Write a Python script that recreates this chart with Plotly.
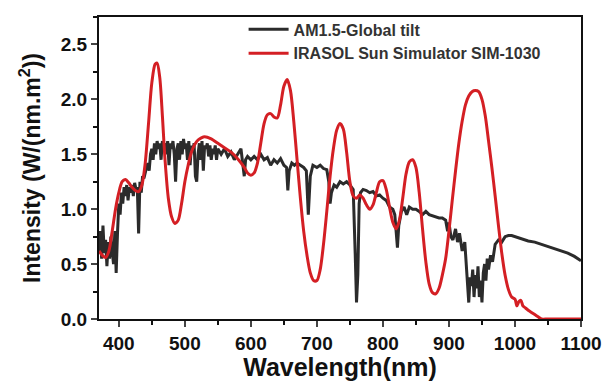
import plotly.graph_objects as go

# AM1.5-Global tilt spectrum
am_wl = [370, 372, 374, 376, 378, 380, 382, 384, 386, 388, 390, 392, 394, 396, 398,
         400, 402, 404, 406, 408, 410, 412, 414, 416, 418, 420, 422, 424, 426, 428,
         430, 432, 434, 436, 438, 440, 442, 444, 446, 448, 450, 452, 454, 456, 458,
         460, 462, 464, 466, 468, 470, 472, 474, 476, 478, 480, 482, 484, 486, 488,
         490, 492, 494, 496, 498, 500, 502, 504, 506, 508, 510, 512, 514, 516, 518,
         520, 522, 524, 526, 528, 530, 532, 534, 536, 538, 540, 542, 544, 546, 548,
         550, 555, 560, 565, 570, 575, 580, 585, 588, 590, 592, 595, 600, 605, 610,
         615, 620, 625, 630, 635, 640, 645, 650, 654, 656, 658, 662, 666, 670, 675,
         680, 684, 687, 690, 694, 700, 705, 710, 715, 718, 720, 722, 726, 730, 735,
         740, 745, 750, 755, 758, 760, 762, 764, 766, 770, 775, 780, 785, 790, 795,
         800, 805, 810, 815, 818, 820, 822, 824, 828, 832, 836, 840, 845, 850, 855,
         860, 865, 870, 875, 880, 885, 890, 895, 898, 900, 903, 906, 910, 913, 916,
         920, 924, 927, 930, 932, 934, 936, 938, 940, 942, 944, 946, 948, 950, 952,
         954, 956, 958, 960, 963, 966, 970, 975, 980, 985, 990, 995, 1000, 1010, 1020,
         1030, 1040, 1050, 1060, 1070, 1080, 1090, 1100]
am_val = [0.62, 0.80, 0.55, 0.85, 0.60, 0.72, 0.48, 0.70, 0.55, 0.75, 0.62, 0.50, 0.80, 0.42, 0.78,
          1.05, 0.95, 1.15, 1.05, 1.20, 1.12, 1.22, 1.08, 1.20, 1.15, 1.22, 1.12, 1.24, 1.18, 1.20,
          0.78, 1.25, 1.15, 1.30, 1.28, 1.35, 1.38, 1.42, 1.35, 1.50, 1.55, 1.45, 1.60, 1.50, 1.62,
          1.55, 1.60, 1.45, 1.62, 1.55, 1.60, 1.50, 1.62, 1.40, 1.60, 1.55, 1.62, 1.50, 1.25, 1.55,
          1.60, 1.45, 1.62, 1.50, 1.64, 1.55, 1.60, 1.45, 1.62, 1.40, 1.58, 1.52, 1.60, 1.30, 1.25,
          1.50, 1.60, 1.45, 1.62, 1.35, 1.58, 1.55, 1.60, 1.48, 1.58, 1.45, 1.55, 1.50, 1.58, 1.45,
          1.55, 1.50, 1.55, 1.48, 1.52, 1.45, 1.50, 1.55, 1.40, 1.30, 1.45, 1.48, 1.45, 1.48, 1.45,
          1.50, 1.45, 1.47, 1.40, 1.45, 1.42, 1.46, 1.40, 1.38, 1.17, 1.35, 1.42, 1.40, 1.42, 1.40,
          1.38, 1.35, 0.95, 1.30, 1.40, 1.38, 1.40, 1.37, 1.36, 1.25, 1.05, 1.15, 1.22, 1.20, 1.25,
          1.23, 1.25, 1.22, 1.18, 0.60, 0.15, 0.40, 1.05, 1.15, 1.18, 1.17, 1.15, 1.16, 1.12, 1.13,
          1.10, 1.08, 1.02, 1.00, 0.95, 0.80, 0.65, 0.85, 0.98, 1.02, 0.95, 1.02, 1.00, 1.00, 0.98,
          0.95, 0.98, 0.95, 0.94, 0.93, 0.92, 0.92, 0.90, 0.80, 0.88, 0.75, 0.72, 0.82, 0.70, 0.78,
          0.62, 0.70, 0.45, 0.15, 0.38, 0.30, 0.45, 0.20, 0.40, 0.28, 0.48, 0.20, 0.35, 0.15, 0.42,
          0.50, 0.35, 0.55, 0.45, 0.58, 0.52, 0.68, 0.72, 0.70, 0.75, 0.76, 0.76, 0.75, 0.73, 0.71,
          0.70, 0.68, 0.66, 0.64, 0.62, 0.60, 0.57, 0.53]

# IRASOL Sun Simulator SIM-1030 spectrum
sim_wl = [370, 375, 380, 385, 390, 395, 400, 405, 410, 415, 420, 425, 430, 435, 440,
          445, 450, 455, 458, 462, 466, 470, 475, 480, 485, 490, 495, 500, 505, 510,
          515, 520, 525, 530, 540, 550, 560, 570, 580, 590, 595, 600, 605, 610, 615,
          620, 625, 630, 635, 640, 645, 650, 655, 660, 665, 670, 675, 680, 685, 690,
          695, 700, 705, 710, 715, 720, 725, 730, 735, 740, 745, 750, 755, 760, 765,
          770, 775, 780, 785, 790, 795, 800, 805, 810, 815, 820, 825, 830, 835, 840,
          845, 850, 855, 860, 865, 870, 875, 880, 885, 890, 895, 900, 905, 910, 915,
          920, 925, 930, 935, 940, 945, 950, 955, 960, 965, 970, 975, 980, 985, 990,
          995, 1000, 1003, 1006, 1009, 1012, 1016, 1020, 1025, 1030, 1035, 1040, 1050, 1100]
sim_val = [0.62, 0.58, 0.56, 0.62, 0.80, 1.00, 1.15, 1.25, 1.27, 1.24, 1.20, 1.17, 1.16, 1.22, 1.42,
           1.78, 2.15, 2.32, 2.33, 2.20, 1.85, 1.45, 1.10, 0.93, 0.87, 0.90, 1.05, 1.25, 1.40, 1.52,
           1.59, 1.63, 1.65, 1.66, 1.64, 1.60, 1.56, 1.52, 1.46, 1.38, 1.33, 1.31, 1.33, 1.42, 1.60,
           1.78, 1.86, 1.87, 1.84, 1.83, 1.95, 2.12, 2.18, 2.08, 1.80, 1.45, 1.10, 0.80, 0.58, 0.42,
           0.35, 0.35, 0.45, 0.68, 0.98, 1.30, 1.55, 1.72, 1.78, 1.73, 1.52, 1.25, 1.12, 1.10, 1.13,
           1.10, 1.04, 1.00, 1.04, 1.15, 1.25, 1.26, 1.18, 1.02, 0.88, 0.82, 0.90, 1.10, 1.32, 1.43,
           1.45, 1.38, 1.15, 0.82, 0.52, 0.32, 0.24, 0.23, 0.28, 0.40, 0.55, 0.80, 1.08, 1.35, 1.60,
           1.80, 1.95, 2.03, 2.07, 2.08, 2.07, 2.00, 1.85, 1.62, 1.38, 1.12, 0.85, 0.60, 0.40, 0.27,
           0.20, 0.18, 0.12, 0.16, 0.17, 0.12, 0.10, 0.08, 0.06, 0.04, 0.02, 0.0, 0.0, 0.0]

x_ticks = [400, 500, 600, 700, 800, 900, 1000, 1100]
y_ticks = [0.0, 0.5, 1.0, 1.5, 2.0, 2.5]

font_family = "Liberation Sans, Arial, sans-serif"

fig = go.Figure()
fig.add_trace(go.Scatter(x=am_wl, y=am_val, mode="lines", name="AM1.5-Global tilt",
                         line=dict(color="#2b2b2b", width=3)))
fig.add_trace(go.Scatter(x=sim_wl, y=sim_val, mode="lines", name="IRASOL Sun Simulator SIM-1030",
                         line=dict(color="#d41f24", width=3, shape="spline", smoothing=0.8)))

fig.update_layout(
    width=610, height=381,
    margin=dict(l=99, r=29, t=14, b=62),
    paper_bgcolor="white", plot_bgcolor="white",
    font=dict(family=font_family, color="#111"),
    showlegend=True,
    legend=dict(x=0.30, y=1.015, xanchor="left", yanchor="top",
                bgcolor="rgba(0,0,0,0)",
                font=dict(size=16, color="#333", family=font_family, weight="bold"),
                tracegroupgap=0, itemwidth=40),
    xaxis=dict(range=[370, 1100], tickvals=x_ticks, ticks="outside", ticklen=6, tickwidth=2,
               showline=True, linecolor="#111", linewidth=2, mirror=True, showgrid=False,
               zeroline=False, automargin=False,
               tickfont=dict(size=19, family=font_family, color="#111", weight="bold"),
               minor=dict(dtick=50, tick0=0, ticks="outside", ticklen=4, tickwidth=2, tickcolor="#111"),
               title=dict(text="<b>Wavelength(nm)</b>", font=dict(size=25, family=font_family, color="#111"),
                          standoff=0)),
    yaxis=dict(range=[0, 2.75], tickvals=y_ticks, tickformat=".1f", ticks="outside", ticklen=6, tickwidth=2,
               showline=True, linecolor="#111", linewidth=2, mirror=True, showgrid=False,
               zeroline=False, automargin=False,
               tickfont=dict(size=19, family=font_family, color="#111", weight="bold"),
               minor=dict(dtick=0.25, tick0=0, ticks="outside", ticklen=4, tickwidth=2, tickcolor="#111"),
               title=dict(text="<b>Intensity (W/(nm.m<sup>2</sup>))</b>",
                          font=dict(size=23, family=font_family, color="#111"), standoff=14)),
)

fig.write_html("out.html")
